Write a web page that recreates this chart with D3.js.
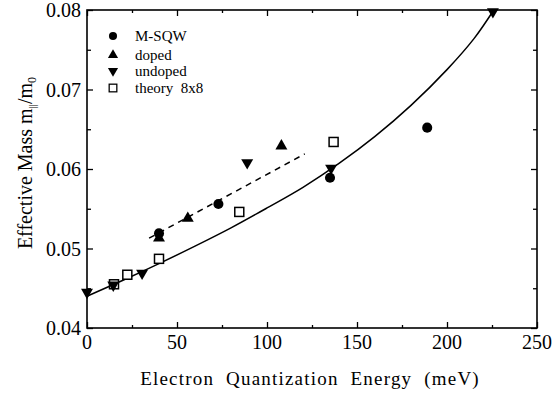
<!DOCTYPE html>
<html>
<head>
<meta charset="utf-8">
<script src="https://cdn.jsdelivr.net/npm/d3@7"></script>
<style>
  body { margin: 0; background: #fff; }
  svg { display: block; }
</style>
</head>
<body>
<div class="chart"></div>
<script>
// #region Data
const msqwE = [40, 73, 135, 189];
const msqwM = [0.0519, 0.0556, 0.0589, 0.0652];
const dopedE = [40, 56, 108];
const dopedM = [0.0513, 0.0538, 0.0629];
const undopedE = [0, 14.6, 30.6, 89, 135.6, 225.5];
const undopedM = [0.0445, 0.0454, 0.0469, 0.0608, 0.0601, 0.0798];
const theoryE = [15, 22.4, 40, 84.6, 137];
const theoryM = [0.0455, 0.0467, 0.0487, 0.0546, 0.0634];
// solid fit curve
const fitE = [0, 20, 40, 60, 80, 100, 120, 140, 160, 180, 200, 215, 226];
const fitM = [0.0440, 0.0460, 0.0481, 0.0503, 0.0526, 0.0551, 0.0577, 0.0607, 0.0641, 0.0680, 0.0725, 0.0764, 0.0800];
// dashed line
const dashE = [34.5, 121];
const dashM = [0.0513, 0.0619];
const xTicks = [0, 50, 100, 150, 200, 250];
const yTicks = [0.04, 0.05, 0.06, 0.07, 0.08];
const legendNames = ['M-SQW', 'doped', 'undoped', 'theory  8x8'];
// #endregion

const FONT = '"Liberation Serif", "Times New Roman", Times, "DejaVu Serif", serif';
const width = 554, height = 394;
const margin = { top: 10, right: 17, bottom: 66, left: 87 };
const w = width - margin.left - margin.right;
const h = height - margin.top - margin.bottom;

const svg = d3.select('.chart').append('svg')
    .attr('width', width)
    .attr('height', height)
    .attr('font-family', FONT);

const g = svg.append('g')
    .attr('transform', 'translate(' + margin.left + ',' + margin.top + ')');

const xScale = d3.scaleLinear().domain([0, 250]).range([0, w]);
const yScale = d3.scaleLinear().domain([0.04, 0.08]).range([h, 0]);

// #region Axes (ticks inward on all sides)
const xMinor = d3.range(25, 250, 50);
const yMinor = d3.range(0.045, 0.08, 0.01);

function tickAxis(axis, scale, vals, len) {
    return axis(scale).tickValues(vals).tickSizeInner(-len).tickSizeOuter(0).tickFormat('');
}
g.append('g').attr('transform', 'translate(0,' + h + ')').call(tickAxis(d3.axisBottom, xScale, xTicks, 6));
g.append('g').attr('transform', 'translate(0,' + h + ')').call(tickAxis(d3.axisBottom, xScale, xMinor, 3));
g.append('g').call(tickAxis(d3.axisTop, xScale, xTicks, 6));
g.append('g').call(tickAxis(d3.axisTop, xScale, xMinor, 3));
g.append('g').call(tickAxis(d3.axisLeft, yScale, yTicks, 6));
g.append('g').call(tickAxis(d3.axisLeft, yScale, yMinor, 4));
g.append('g').attr('transform', 'translate(' + w + ',0)').call(tickAxis(d3.axisRight, yScale, yTicks, 6));
g.append('g').attr('transform', 'translate(' + w + ',0)').call(tickAxis(d3.axisRight, yScale, yMinor, 4));
g.selectAll('.domain').remove();
g.selectAll('.tick line').attr('stroke', '#000').attr('stroke-width', 1.3);

g.append('rect')
    .attr('width', w).attr('height', h)
    .attr('fill', 'none').attr('stroke', '#000').attr('stroke-width', 1.6);

g.selectAll('.xLabel')
    .data(xTicks).enter()
    .append('text')
    .attr('x', d => xScale(d))
    .attr('y', h + 21)
    .attr('text-anchor', 'middle')
    .attr('font-family', FONT)
    .attr('font-size', 20)
    .text(d => d);

g.selectAll('.yLabel')
    .data(yTicks).enter()
    .append('text')
    .attr('x', -6)
    .attr('y', d => yScale(d) + 7)
    .attr('text-anchor', 'end')
    .attr('font-family', FONT)
    .attr('font-size', 20)
    .text(d => d3.format('.2f')(d));

svg.append('text')
    .attr('x', margin.left + w / 2 - 2)
    .attr('y', 385)
    .attr('text-anchor', 'middle')
    .attr('font-family', FONT)
    .attr('font-size', 19)
    .attr('word-spacing', 6)
    .attr('letter-spacing', 1.2)
    .text('Electron Quantization Energy (meV)');

const yTitle = svg.append('text')
    .attr('transform', 'translate(32,' + 163 + ') rotate(-90)')
    .attr('text-anchor', 'middle')
    .attr('font-family', FONT)
    .attr('font-size', 20);
yTitle.append('tspan').text('Effective Mass m');
yTitle.append('tspan').attr('font-size', 11).attr('dy', 4).text('||');
yTitle.append('tspan').attr('dy', -4).text('/m');
yTitle.append('tspan').attr('font-size', 12).attr('dy', 4).text('0');
// #endregion

// #region Lines
const line = d3.line()
    .x(d => xScale(d[0]))
    .y(d => yScale(d[1]))
    .curve(d3.curveCatmullRom);

g.append('path')
    .datum(fitE.map((e, i) => [e, fitM[i]]))
    .attr('d', line)
    .attr('fill', 'none')
    .attr('stroke', '#000')
    .attr('stroke-width', 1.5);

g.append('path')
    .datum(dashE.map((e, i) => [e, dashM[i]]))
    .attr('d', d3.line().x(d => xScale(d[0])).y(d => yScale(d[1])))
    .attr('fill', 'none')
    .attr('stroke', '#000')
    .attr('stroke-width', 1.5)
    .attr('stroke-dasharray', '6,5');
// #endregion

// #region Markers
const circleSym = d3.symbol().type(d3.symbolCircle).size(80);
const triSym = d3.symbol().type(d3.symbolTriangle).size(62);

function drawMarker(sel, kind) {
    if (kind == 0) {
        sel.append('path').attr('d', circleSym()).attr('fill', '#000');
    } else if (kind == 1) {
        sel.append('path').attr('d', triSym()).attr('fill', '#000');
    } else if (kind == 2) {
        sel.append('path').attr('d', triSym()).attr('fill', '#000').attr('transform', 'rotate(180)');
    } else {
        sel.append('rect')
            .attr('x', -4.5).attr('y', -4.5).attr('width', 9).attr('height', 9)
            .attr('fill', '#fff').attr('stroke', '#000').attr('stroke-width', 1.5);
    }
}

const series = [
    [msqwE, msqwM],
    [dopedE, dopedM],
    [undopedE, undopedM],
    [theoryE, theoryM]
];
[3, 0, 1, 2].forEach(k => {
    const [es, ms] = series[k];
    es.forEach((e, i) => {
        const mg = g.append('g')
            .attr('transform', 'translate(' + xScale(e) + ',' + yScale(ms[i]) + ')');
        drawMarker(mg, k);
    });
});
// #endregion

// #region Legend
const legendY = [36, 55, 71, 88];
legendNames.forEach((name, i) => {
    const lg = svg.append('g').attr('transform', 'translate(113,' + legendY[i] + ')');
    const sym = lg.append('g').attr('transform', i == 0 ? 'scale(0.8)' : 'scale(0.85)');
    drawMarker(sym, i);
    lg.append('text')
        .attr('x', 22)
        .attr('y', 5)
        .attr('font-family', FONT)
        .attr('font-size', 15)
        .style('white-space', 'pre')
        .text(name);
});
// #endregion
</script>
</body>
</html>
